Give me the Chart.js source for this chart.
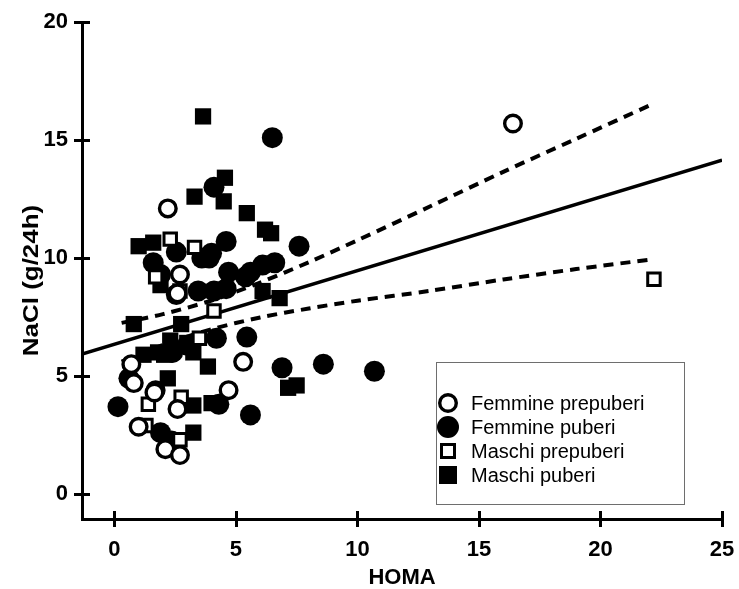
<!DOCTYPE html>
<html><head><meta charset="utf-8">
<script src="https://cdn.jsdelivr.net/npm/chart.js@4.4.1/dist/chart.umd.min.js"></script>
<style>html,body{margin:0;padding:0;background:#fff;overflow:hidden}#wrap{width:739px;height:589px;position:relative}</style>
</head><body><div id="wrap"><canvas id="c" width="739" height="589"></canvas></div>
<script>
const seriesLabels = ['Femmine prepuberi', 'Femmine puberi', 'Maschi prepuberi', 'Maschi puberi'];
const xTitle = 'HOMA';
const yTitle = 'NaCl (g/24h)';
const xTicks = [0, 5, 10, 15, 20, 25];
const yTicks = [0, 5, 10, 15, 20];

const femPreX = [2.2, 16.4, 0.7, 5.3, 4.7, 1.7, 1.0, 2.6, 2.1, 2.7, 2.7, 0.8, 2.6, 1.65];
const femPreY = [12.1, 15.7, 5.5, 5.6, 4.4, 4.4, 2.85, 3.6, 1.9, 1.65, 9.3, 4.7, 8.5, 4.3];

const femPubX = [6.5, 4.1, 4.6, 7.6, 6.6, 6.1, 5.6, 4.7, 3.9, 4.1, 3.6, 3.45, 2.55, 2.55, 1.6, 4.0, 4.6, 5.4, 4.2, 5.45, 8.6, 10.7, 6.9, 4.3, 5.6, 0.15, 0.6, 1.9, 2.35, 3.0, 2.4, 1.9];
const femPubY = [15.1, 13.0, 10.7, 10.5, 9.8, 9.7, 9.4, 9.4, 10.0, 8.6, 10.0, 8.6, 10.25, 8.45, 9.8, 10.2, 8.7, 9.2, 6.6, 6.65, 5.5, 5.2, 5.35, 3.8, 3.35, 3.7, 4.9, 2.6, 2.25, 6.3, 6.0, 9.3];

const malePreX = [22.2, 2.3, 3.3, 1.7, 4.1, 1.4, 2.75, 1.3, 2.7, 3.5, 2.7];
const malePreY = [9.1, 10.8, 10.45, 9.2, 7.75, 3.8, 4.1, 2.9, 2.3, 6.6, 8.6];

const malePubX = [3.65, 4.55, 3.3, 4.5, 5.45, 6.2, 6.45, 1.0, 1.6, 6.1, 6.8, 0.8, 2.75, 3.85, 7.15, 7.5, 4.0, 3.25, 3.25, 2.2, 1.2, 1.8, 2.05, 2.3, 3.0, 3.25, 1.9];
const malePubY = [16.0, 13.4, 12.6, 12.4, 11.9, 11.2, 11.05, 10.5, 10.65, 8.6, 8.3, 7.2, 7.2, 5.4, 4.5, 4.6, 3.85, 3.75, 2.6, 4.9, 5.9, 6.0, 5.9, 6.5, 6.4, 6.0, 8.85];

const regX = [-1.33, 25];
const regY = [5.93, 14.15];
const bandX = [0.3, 2, 4, 6, 8, 10, 13, 16, 19, 22.2];
const upperY = [7.25, 7.62, 8.2, 8.96, 9.82, 10.75, 12.19, 13.65, 15.05, 16.55];
const lowerY = [5.61, 6.32, 6.98, 7.48, 7.86, 8.19, 8.61, 9.09, 9.53, 9.95];

const pts = (xs, ys) => xs.map((x, i) => ({x: x, y: ys[i]}));
const FONT = '"Liberation Sans", Arial, sans-serif';

const markerStyles = [
  {pointStyle: 'circle', pointRadius: 8.3, pointBorderWidth: 3.4, pointBackgroundColor: '#fff', pointBorderColor: '#000', order: 1},
  {pointStyle: 'circle', pointRadius: 10.5, pointBorderWidth: 0, pointBackgroundColor: '#000', pointBorderColor: '#000', order: 3},
  {pointStyle: 'rect', pointRadius: 8.8, pointBorderWidth: 3, pointBackgroundColor: '#fff', pointBorderColor: '#000', order: 2},
  {pointStyle: 'rect', pointRadius: 11.5, pointBorderWidth: 0, pointBackgroundColor: '#000', pointBorderColor: '#000', order: 4}
];
const seriesData = [pts(femPreX, femPreY), pts(femPubX, femPubY), pts(malePreX, malePreY), pts(malePubX, malePubY)];

const datasets = seriesData.map((d, i) => Object.assign({
  label: seriesLabels[i], data: d, showLine: false, isSeries: true, pointHoverRadius: 0
}, markerStyles[i]));

datasets.push({label: 'fit', data: pts(regX, regY), showLine: true, borderColor: '#000', borderWidth: 3.5, pointRadius: 0, order: 10, tension: 0});
datasets.push({label: 'upper', data: pts(bandX, upperY), showLine: true, borderColor: '#000', borderWidth: 4, borderDash: [10, 7], pointRadius: 0, order: 10, tension: 0.3});
datasets.push({label: 'lower', data: pts(bandX, lowerY), showLine: true, borderColor: '#000', borderWidth: 4, borderDash: [10, 7], pointRadius: 0, order: 10, tension: 0.3});

const axisTicksPlugin = {
  id: 'axisTicks',
  afterDraw(chart) {
    const ctx = chart.ctx, xs = chart.scales.x, ys = chart.scales.y, a = chart.chartArea;
    ctx.save();
    ctx.strokeStyle = '#000'; ctx.lineWidth = 3; ctx.lineCap = 'butt';
    xTicks.forEach(v => { const p = Math.round(xs.getPixelForValue(v)) + 0.5; ctx.beginPath(); ctx.moveTo(p, a.bottom - 8); ctx.lineTo(p, a.bottom + 8); ctx.stroke(); });
    yTicks.forEach(v => { const p = Math.round(ys.getPixelForValue(v)) + 0.5; ctx.beginPath(); ctx.moveTo(a.left - 8, p); ctx.lineTo(a.left + 8, p); ctx.stroke(); });
    ctx.fillStyle = '#000';
    ctx.font = 'bold 22px ' + FONT;
    ctx.textAlign = 'center'; ctx.textBaseline = 'middle';
    ctx.translate(32, (a.top + a.bottom) / 2 + 10);
    ctx.rotate(-Math.PI / 2);
    ctx.scale(1.18, 1);
    ctx.fillText(yTitle, 0, 0);
    ctx.restore();
  }
};

const legendPlugin = {
  id: 'boxLegend',
  afterDraw(chart) {
    const ctx = chart.ctx;
    ctx.save();
    ctx.fillStyle = '#fff';
    ctx.fillRect(436, 362, 248, 142);
    ctx.strokeStyle = '#6e6e6e'; ctx.lineWidth = 1;
    ctx.strokeRect(436.5, 362.5, 248, 142);
    const rows = [403, 427, 451, 475];
    const mx = 448;
    ctx.font = '20px ' + FONT;
    ctx.textBaseline = 'middle'; ctx.textAlign = 'left';
    chart.data.datasets.filter(d => d.isSeries).forEach((d, i) => {
      const y = rows[i];
      ctx.fillStyle = '#000'; ctx.strokeStyle = '#000';
      if (i === 0) { ctx.lineWidth = 3.4; ctx.beginPath(); ctx.arc(mx, y, 8.3, 0, Math.PI * 2); ctx.fillStyle = '#fff'; ctx.fill(); ctx.stroke(); }
      if (i === 1) { ctx.beginPath(); ctx.arc(mx, y, 11, 0, Math.PI * 2); ctx.fill(); }
      if (i === 2) { ctx.lineWidth = 3; ctx.fillStyle = '#fff'; ctx.fillRect(mx - 6.5, y - 6.5, 13, 13); ctx.strokeRect(mx - 6.5, y - 6.5, 13, 13); }
      if (i === 3) { ctx.fillRect(mx - 9, y - 9, 18, 18); }
      ctx.fillStyle = '#000';
      ctx.fillText(d.label, 471, y + 1);
    });
    ctx.restore();
  }
};

new Chart(document.getElementById('c'), {
  type: 'scatter',
  data: {datasets: datasets},
  plugins: [axisTicksPlugin, legendPlugin],
  options: {
    responsive: false, animation: false, devicePixelRatio: 1,
    layout: {padding: {left: 0, right: 17, top: 22, bottom: 0}},
    plugins: {legend: {display: false}, tooltip: {enabled: false}},
    scales: {
      x: {
        type: 'linear', min: -1.33, max: 25,
        afterBuildTicks: s => { s.ticks = xTicks.map(v => ({value: v})); },
        afterFit: s => { s.height = 70; s.paddingLeft = 0; s.paddingRight = 0; },
        grid: {display: true, drawOnChartArea: false, drawTicks: false},
        border: {display: true, color: '#000', width: 3},
        ticks: {color: '#000', padding: 18, font: {family: FONT, size: 22, weight: 'bold'}, callback: v => String(v)},
        title: {display: true, text: xTitle, color: '#000', font: {family: FONT, size: 22, weight: 'bold', lineHeight: 1}, padding: {top: 0, bottom: 0}}
      },
      y: {
        type: 'linear', min: -1.06, max: 20,
        afterBuildTicks: s => { s.ticks = yTicks.map(v => ({value: v})); },
        afterFit: s => { s.width = 82; s.paddingTop = 0; s.paddingBottom = 0; },
        grid: {display: true, drawOnChartArea: false, drawTicks: false},
        border: {display: true, color: '#000', width: 3},
        ticks: {color: '#000', padding: 14, font: {family: FONT, size: 22, weight: 'bold'}, callback: v => String(v)},
        title: {display: false, text: yTitle}
      }
    }
  }
});
</script></body></html>
